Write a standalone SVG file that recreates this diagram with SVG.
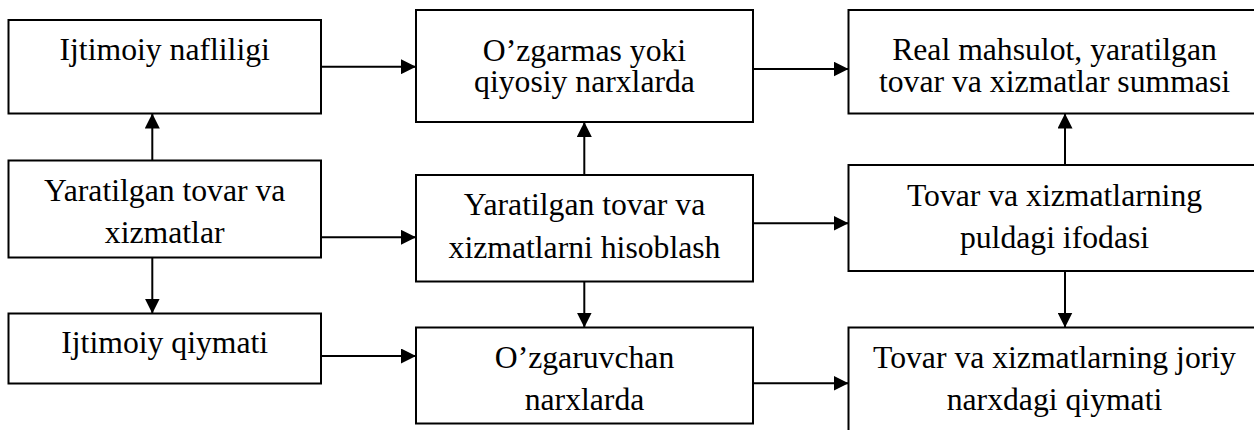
<svg xmlns="http://www.w3.org/2000/svg" width="1254" height="430" viewBox="0 0 1254 430">
  <style>
    .box { fill: #ffffff; stroke: #000000; stroke-width: 2; }
    .link { fill: none; stroke: #000000; stroke-width: 2; marker-end: url(#head); }
  </style>
  <defs>
    <marker id="head" markerUnits="userSpaceOnUse" markerWidth="15" markerHeight="15" refX="15" refY="7.5" orient="auto">
      <path d="M0,0 L15,7.5 L0,15 Z" fill="#000000"/>
    </marker>
  </defs>
  <rect width="1254" height="430" fill="#ffffff"/>

  <g font-family="Liberation Serif, serif" font-size="31.7" fill="#000000" text-anchor="middle">
    <!-- left column -->
    <g id="ijtimoiy-nafliligi">
      <rect class="box" x="8.5" y="20" width="312.5" height="93.5"/>
      <text x="164.7" y="60">Ijtimoiy nafliligi</text>
    </g>
    <g id="yaratilgan-tovar">
      <rect class="box" x="8.5" y="160.5" width="312.5" height="97"/>
      <text x="164.7" y="200.5">Yaratilgan tovar va</text>
      <text x="164.7" y="242.7">xizmatlar</text>
    </g>
    <g id="ijtimoiy-qiymati">
      <rect class="box" x="8.5" y="313.5" width="312.5" height="70"/>
      <text x="164.7" y="352.7">Ijtimoiy qiymati</text>
    </g>

    <!-- middle column -->
    <g id="ozgarmas-narxlar">
      <rect class="box" x="416" y="10" width="337" height="112"/>
      <text x="584.5" y="60.5">O’zgarmas yoki</text>
      <text x="584.5" y="92">qiyosiy narxlarda</text>
    </g>
    <g id="hisoblash">
      <rect class="box" x="416" y="175" width="337" height="106.5"/>
      <text x="584.5" y="215">Yaratilgan tovar va</text>
      <text x="584.5" y="258.3">xizmatlarni hisoblash</text>
    </g>
    <g id="ozgaruvchan-narxlar">
      <rect class="box" x="416" y="327.5" width="337" height="96"/>
      <text x="584.5" y="368.3">O’zgaruvchan</text>
      <text x="584.5" y="410">narxlarda</text>
    </g>

    <!-- right column -->
    <g id="real-mahsulot">
      <rect class="box" x="848.5" y="10" width="412" height="103.5"/>
      <text x="1054.5" y="59.5">Real mahsulot, yaratilgan</text>
      <text x="1054.5" y="91.7">tovar va xizmatlar summasi</text>
    </g>
    <g id="puldagi-ifodasi">
      <rect class="box" x="848.5" y="165" width="412" height="106"/>
      <text x="1054.5" y="205.7">Tovar va xizmatlarning</text>
      <text x="1054.5" y="248.3">puldagi ifodasi</text>
    </g>
    <g id="joriy-qiymati">
      <rect class="box" x="848.5" y="327.5" width="412" height="130"/>
      <text x="1054.5" y="368.3">Tovar va xizmatlarning joriy</text>
      <text x="1054.5" y="410">narxdagi qiymati</text>
    </g>
  </g>

  <!-- connectors -->
  <g id="connectors">
    <line class="link" x1="152.3" y1="160.5" x2="152.3" y2="113.5"/>
    <line class="link" x1="152.3" y1="257.5" x2="152.3" y2="313.5"/>
    <line class="link" x1="321" y1="66.7" x2="416" y2="66.7"/>
    <line class="link" x1="321" y1="237.3" x2="416" y2="237.3"/>
    <line class="link" x1="321" y1="356" x2="416" y2="356"/>
    <line class="link" x1="584.3" y1="175" x2="584.3" y2="122"/>
    <line class="link" x1="584.3" y1="281.5" x2="584.3" y2="327.5"/>
    <line class="link" x1="753" y1="69" x2="848.5" y2="69"/>
    <line class="link" x1="753" y1="223.3" x2="848.5" y2="223.3"/>
    <line class="link" x1="753" y1="383.3" x2="848.5" y2="383.3"/>
    <line class="link" x1="1065" y1="165" x2="1065" y2="113.5"/>
    <line class="link" x1="1065" y1="271" x2="1065" y2="327.5"/>
  </g>
</svg>
